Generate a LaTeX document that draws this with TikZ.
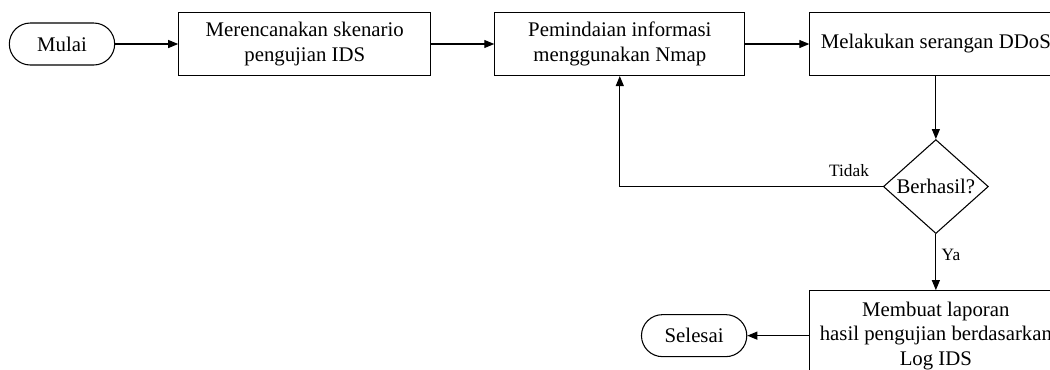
\documentclass[tikz,border=0pt]{standalone}
\usepackage{fontspec}
\setmainfont{Liberation Serif}
\usetikzlibrary{shapes.geometric}
\usetikzlibrary{arrows.meta}
\usetikzlibrary{positioning}

\begin{document}
\begin{tikzpicture}[x=0.75pt,y=-0.75pt,
    every node/.style={draw,line width=0.8pt,align=center,inner sep=2pt,
        font=\fontsize{15.6}{18.4}\selectfont},
    proses/.style={rectangle,minimum width=189pt,minimum height=47.25pt},
    terminal/.style={rectangle,rounded corners=15.75pt,minimum width=79pt,minimum height=31.5pt},
    keputusan/.style={diamond,inner sep=0pt,minimum width=78.75pt,minimum height=70.5pt},
    label/.style={draw=none,font=\fontsize{13}{15}\selectfont},
    >={Triangle[length=7.5pt,width=6pt]},
    line width=0.8pt]
    \useasboundingbox (0,0) rectangle (1050,369);

    \node[terminal] (mulai) at (62,44) {Mulai};
    \node[proses] (rencana) [right=47.25pt of mulai] {Merencanakan skenario\\pengujian IDS};
    \node[proses,minimum width=187.5pt] (scan) [right=47.25pt of rencana] {Pemindaian informasi\\menggunakan Nmap};
    \node[proses] (serang) [right=48pt of scan] {Melakukan serangan DDoS};
    \node[keputusan] (cek) [below=47.25pt of serang] {Berhasil?};
    \node[proses,minimum height=67.5pt] (laporan) [below=42pt of cek] {Membuat laporan\\hasil pengujian berdasarkan\\Log IDS};
    \node[terminal] (selesai) [left=46.5pt of laporan] {Selesai};

    \draw[->] (mulai) -- (rencana);
    \draw[->] (rencana) -- (scan);
    \draw[->] (scan) -- (serang);
    \draw[->] (serang) -- (cek);
    \draw[->] (cek.west) -- node[label,pos=0,above left,xshift=-8pt,yshift=5pt] {Tidak} (cek.west -| scan.south) -- (scan.south);
    \draw[->] (cek) -- node[label,pos=0.38,right,xshift=2pt] {Ya} (laporan);
    \draw[->] (laporan) -- (selesai);
\end{tikzpicture}
\end{document}
